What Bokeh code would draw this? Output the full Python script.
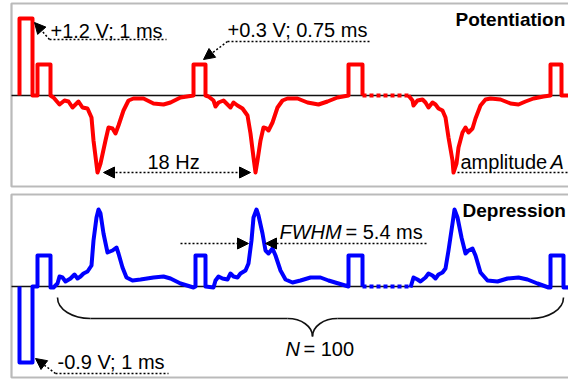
from bokeh.plotting import figure
from bokeh.layouts import column
from bokeh.models import Range1d, BoxAnnotation, Arrow, NormalHead
from bokeh.core.properties import value
from bokeh.embed import file_html
from bokeh.resources import INLINE

# ---------------- data (time and response in arbitrary units) ----------------
# Potentiation panel: pulses (+1.2 V; 1 ms, then +0.3 V; 0.75 ms at 18 Hz) and negative responses
pot_t1 = [8, 8, 21, 21, 26, 26, 39, 39, 42, 48, 53, 57, 61, 65, 67, 71, 76, 80, 82, 86, 89, 94, 97, 101,
          104, 107, 112, 117, 122, 132, 142, 152, 159, 169, 182, 182, 194, 194, 197, 202, 204, 207, 212,
          216, 219, 222, 226, 231, 236, 239, 242, 244, 246, 249, 252, 255, 257, 261, 266, 271, 276, 286,
          296, 307, 316, 326, 337, 337, 351, 351]
pot_v1 = [0, 77, 77, 0, 0, 31, 31, 0, -2, -9, -5, -6, -12, -8, -6, -12, -13, -22, -45, -77, -68, -45, -32,
          -33, -38, -30, -15, -5, -3, -3, -8, -9, -7, -2, 0, 31, 31, 0, -1, -5, -11, -7, -5, -9, -12, -7,
          -10, -13, -20, -38, -62, -77, -65, -45, -32, -33, -35, -27, -12, -5, -3, -3, -7, -9, -6, -2, 0,
          31, 31, 0]
pot_gap_t = [351, 397]
pot_gap_v = [0, 0]
pot_t2 = [397, 401, 402, 406, 411, 414, 417, 421, 424, 427, 431, 434, 437, 441, 442, 445, 447, 451, 454,
          457, 461, 464, 469, 474, 479, 489, 499, 507, 514, 522, 532, 539, 539, 550, 550, 565]
pot_v2 = [0, -5, -10, -5, -4, -7, -12, -7, -9, -13, -15, -22, -42, -65, -77, -68, -52, -37, -32, -37, -33,
          -23, -10, -4, -3, -4, -8, -9, -6, -3, -1, 0, 31, 31, 0, 0]

# Depression panel: pulses (-0.9 V; 1 ms, then +0.3 V) and positive responses
dep_t1 = [8, 8, 21, 21, 26, 26, 39, 39, 42, 46, 48, 51, 54, 59, 63, 66, 69, 72, 76, 80, 82, 85, 87, 89,
          92, 96, 101, 105, 107, 111, 115, 121, 129, 142, 152, 159, 169, 182, 184, 184, 194, 194, 202,
          204, 207, 211, 216, 219, 222, 226, 229, 234, 237, 240, 242, 245, 247, 251, 254, 257, 261, 264,
          269, 274, 281, 289, 299, 309, 317, 327, 337, 337, 351, 351]
dep_v1 = [0, -76, -76, 0, 0, 31, 31, -1, -1, 3, 10, 9, 5, 8, 12, 8, 10, 13, 15, 21, 46, 69, 77, 73, 53,
          34, 36, 39, 33, 19, 9, 6, 7, 9, 10, 8, 3, -1, 0, 31, 31, 0, -1, 6, 10, 8, 7, 13, 10, 9, 13, 16,
          23, 46, 69, 77, 71, 53, 36, 33, 38, 31, 16, 7, 4, 6, 9, 9, 6, 3, 0, 31, 31, 0]
dep_gap_t = [351, 399]
dep_gap_v = [0, 0]
dep_t2 = [399, 402, 406, 409, 414, 417, 421, 424, 427, 431, 434, 437, 441, 443, 446, 450, 454, 457, 461,
          464, 469, 476, 486, 496, 507, 516, 526, 537, 539, 539, 552, 552, 565]
dep_v2 = [-1, 9, 7, 5, 9, 13, 11, 8, 12, 14, 18, 36, 63, 77, 69, 49, 33, 36, 38, 31, 14, 6, 5, 8, 9, 7,
          3, -1, -1, 31, 31, -1, -1]

FONT = value("Liberation Sans")
FS = "20px"
TITLE_FS = "19px"
INK = "#000000"
DOT = "2 2"
TEXT_RAISE = -6  # screen px

W, H = 568, 190
PANEL_LEFT, PANEL_RIGHT, PANEL_TOP, PANEL_BOTTOM = 0, 700, 92, -91


def make_fig(y0, y1):
    p = figure(width=W, height=H, x_range=Range1d(-11, 557), y_range=Range1d(y0, y1),
               x_axis_type=None, y_axis_type=None, toolbar_location=None,
               output_backend="svg", min_border=0, outline_line_color=None)
    p.grid.visible = False
    p.add_layout(BoxAnnotation(left=PANEL_LEFT, right=PANEL_RIGHT, top=PANEL_TOP, bottom=PANEL_BOTTOM,
                               fill_color=None, fill_alpha=0, line_color="#1a1a1a", line_width=2.2))
    p.segment(x0=[PANEL_LEFT], y0=[0], x1=[PANEL_RIGHT], y1=[0], line_color="#111111", line_width=1.3)
    return p


def txt(p, x, y, s, style="normal", size=FS):
    p.text(x=[x], y=[y], text=[s], text_font=FONT, text_font_size=size, text_font_style=style,
           text_color="black", text_baseline="alphabetic", text_align="left", y_offset=TEXT_RAISE)


def dotted(p, x0, y0, x1, y1):
    p.segment(x0=[x0], y0=[y0], x1=[x1], y1=[y1], line_color=INK, line_width=1.5, line_dash=DOT)


def arrow(p, x0, y0, x1, y1, both=False):
    head = lambda: NormalHead(size=11, fill_color="black", line_color="black", line_width=1)
    p.add_layout(Arrow(start=head() if both else None, end=head(), x_start=x0, y_start=y0,
                       x_end=x1, y_end=y1, line_color=INK, line_width=1.5, line_dash=DOT))


# ---------------- top panel: Potentiation ----------------
top = make_fig(-95, 95)
top.line(pot_t1, pot_v1, line_color="#ff0000", line_width=4, line_join="round")
top.line(pot_gap_t, pot_gap_v, line_color="#ff0000", line_width=4, line_dash="4 3")
top.line(pot_t2, pot_v2, line_color="#ff0000", line_width=4, line_join="round")

txt(top, 39, 59, "+1.2 V; 1 ms")
dotted(top, 38, 56, 155, 56)
arrow(top, 38, 56, 23, 73)

txt(top, 216, 60, "+0.3 V; 0.75 ms")
dotted(top, 216, 54, 359, 54)
arrow(top, 216, 54, 192, 36)

txt(top, 136, -72, "18 Hz")
arrow(top, 92, -77, 239, -77, both=True)

txt(top, 449, -72, "amplitude")
txt(top, 539, -72, "A", style="italic")
dotted(top, 446, -77, 600, -77)

txt(top, 444, 70, "Potentiation", style="bold", size=TITLE_FS)

# ---------------- bottom panel: Depression ----------------
bot = make_fig(-94, 96)
bot.line(dep_t1, dep_v1, line_color="#0000ff", line_width=4, line_join="round")
bot.line(dep_gap_t, dep_gap_v, line_color="#0000ff", line_width=4, line_dash="4 3")
bot.line(dep_t2, dep_v2, line_color="#0000ff", line_width=4, line_join="round")

txt(bot, 46, -81, "-0.9 V; 1 ms")
dotted(bot, 44, -87, 157, -87)
arrow(bot, 44, -87, 24, -72)

txt(bot, 268, 49, "FWHM", style="italic")
txt(bot, 334, 49, "= 5.4 ms")
arrow(bot, 169, 43, 237, 43)
arrow(bot, 415, 43, 254, 43)

txt(bot, 451, 70, "Depression", style="bold", size=TITLE_FS)

# curly brace spanning the N = 100 repetitions
BR_L, BR_R, BR_MID = 46, 552, 301
BR_END_V, BR_LINE_V, BR_TIP_V = -11, -32, -50
bot.bezier(x0=[BR_L, BR_MID - 25, BR_MID, BR_R - 33],
           y0=[BR_END_V, BR_LINE_V, BR_TIP_V, BR_LINE_V],
           x1=[BR_L + 33, BR_MID, BR_MID + 25, BR_R],
           y1=[BR_LINE_V, BR_TIP_V, BR_LINE_V, BR_END_V],
           cx0=[BR_L, BR_MID - 11, BR_MID, BR_R - 15],
           cy0=[BR_END_V - 12, BR_LINE_V, BR_TIP_V + 10, BR_LINE_V],
           cx1=[BR_L + 15, BR_MID, BR_MID + 11, BR_R],
           cy1=[BR_LINE_V, BR_TIP_V + 10, BR_LINE_V, BR_END_V - 12],
           line_color="#111111", line_width=1.6)
bot.segment(x0=[BR_L + 33, BR_MID + 25], y0=[BR_LINE_V, BR_LINE_V],
            x1=[BR_MID - 25, BR_R - 33], y1=[BR_LINE_V, BR_LINE_V], line_color="#111111", line_width=1.6)

txt(bot, 274, -68, "N", style="italic")
txt(bot, 292, -68, "= 100")

layout = column(top, bot, spacing=0)
open("out.html", "w").write(file_html(layout, INLINE))
